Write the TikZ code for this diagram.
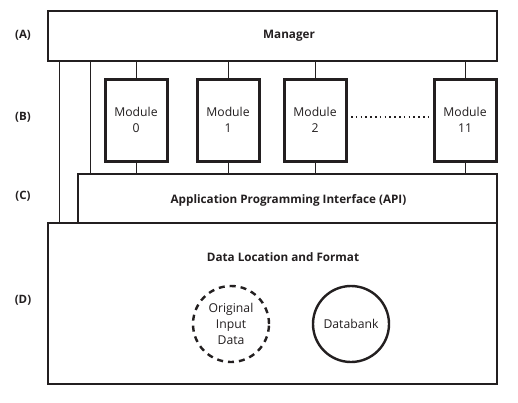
\documentclass[tikz,border=0pt]{standalone}
\usepackage{fontspec}
\setmainfont{Open Sans}
\usetikzlibrary{calc}
\definecolor{ink}{HTML}{231F20}
\begin{document}
\begin{tikzpicture}[x=1pt,y=-1pt,
  every node/.style={text=ink},
  bigbox/.style={draw=ink,line width=2pt,inner sep=0pt,rectangle},
  modbox/.style={draw=ink,line width=3pt,inner sep=0pt,minimum width=62pt,minimum height=82pt,align=center,font=\fontsize{12.2}{15.5}\selectfont},
  conn/.style={draw=ink,line width=0.9pt},
  lbl/.style={font=\bfseries\fontsize{11.7}{14}\selectfont},
  rowlbl/.style={font=\bfseries\fontsize{11.5}{14}\selectfont},
  dbcircle/.style={circle,draw=ink,line width=2.4pt,minimum size=76pt,inner sep=0pt,align=center,font=\fontsize{12.2}{16}\selectfont}
]
\useasboundingbox[fill=white] (0,0) rectangle (518,402);
\node[bigbox,minimum width=449pt,minimum height=50pt] (man) at (272,36) {};
\node[lbl] (mantxt) at (289,36) {Manager};
\node[modbox] (m0) at (136,120) {Module\\0};
\node[modbox] (m1) at (228,120) {Module\\1};
\node[modbox] (m2) at (315,120) {Module\\2};
\node[modbox] (m11) at (465,120) {Module\\11};
\node[bigbox,minimum width=419pt,minimum height=49pt] (api) at (287.5,198.5) {};
\node[lbl] (apitxt) at (288.5,200) {Application Programming Interface (API)};
\node[bigbox,minimum width=449pt,minimum height=161pt] (data) at (272,303.5) {};
\node[lbl] (datatxt) at (283,257) {Data Location and Format};
\node[dbcircle,dash pattern=on 6pt off 5pt] (orig) at (231,324) {Original\\Input\\Data};
\node[dbcircle] (db) at (351,324) {Databank};
\node[rowlbl] (la) at (23,35) {(A)};
\node[rowlbl] (lb) at (23,117) {(B)};
\node[rowlbl] (lc) at (23,196) {(C)};
\node[rowlbl] (ld) at (23,300) {(D)};
\foreach \m in {m0,m1,m2,m11}{
  \draw[conn] (\m.north) -- (\m.north |- man.south);
  \draw[conn] (\m.south) -- (\m.south |- api.north);
}
\coordinate (l1) at ($(man.south west)+(12.5,0)$);
\coordinate (l2) at ($(man.south west)+(44,0)$);
\draw[conn] (l1) -- (l1 |- data.north);
\draw[conn] (l2) -- (l2 |- api.north);
\coordinate (d1) at (351,117);
\coordinate (d2) at (429,117);
\draw[draw=ink,line width=1.6pt,dash pattern=on 1.6pt off 3.2pt] (d1) -- (d2);
\end{tikzpicture}
\end{document}
